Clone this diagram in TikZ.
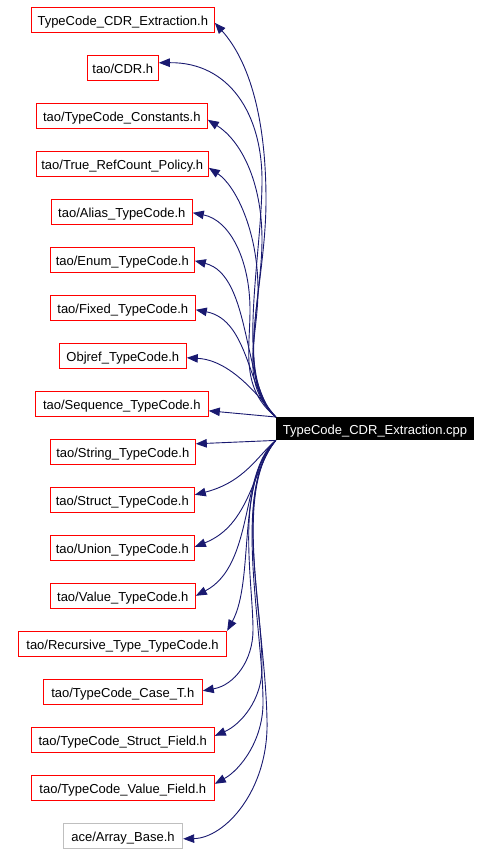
\documentclass[tikz,border=0pt]{standalone}
\usepackage{fontspec}
\setmainfont{Liberation Sans}
\usetikzlibrary{arrows.meta}
\definecolor{midnight}{RGB}{25,25,112}
\definecolor{greyline}{RGB}{191,191,191}
\tikzset{
  box/.style={draw=red, line width=1pt, minimum height=25pt, inner sep=0pt, text height=12.2pt, text depth=0pt, font=\fontsize{13pt}{15pt}\selectfont},
  greybox/.style={box, draw=greyline},
  mainbox/.style={fill=black, text=white, minimum height=23pt, inner sep=0pt, text height=11.2pt, text depth=0pt, font=\fontsize{13pt}{15pt}\selectfont},
  dep/.style={draw=midnight, line width=0.9pt, -{Triangle[length=11pt,width=8.5pt]}}
}
\begin{document}
\begin{tikzpicture}[x=1pt,y=-1pt]
\useasboundingbox (0,0) rectangle (491,854);
\node[box, minimum width=183pt] (n0) at (122.8,19.8) {TypeCode\_CDR\_Extraction.h};
\node[box, minimum width=71pt] (n1) at (122.8,67.8) {tao/CDR.h};
\node[box, minimum width=171pt] (n2) at (121.8,115.8) {tao/TypeCode\_Constants.h};
\node[box, minimum width=172pt] (n3) at (122.3,163.8) {tao/True\_RefCount\_Policy.h};
\node[box, minimum width=141pt] (n4) at (121.8,211.8) {tao/Alias\_TypeCode.h};
\node[box, minimum width=144pt] (n5) at (122.3,259.8) {tao/Enum\_TypeCode.h};
\node[box, minimum width=145pt] (n6) at (122.8,307.8) {tao/Fixed\_TypeCode.h};
\node[box, minimum width=127pt] (n7) at (122.8,355.8) {Objref\_TypeCode.h};
\node[box, minimum width=173pt] (n8) at (121.8,403.8) {tao/Sequence\_TypeCode.h};
\node[box, minimum width=145pt] (n9) at (122.8,451.8) {tao/String\_TypeCode.h};
\node[box, minimum width=144pt] (n10) at (122.3,499.8) {tao/Struct\_TypeCode.h};
\node[box, minimum width=144pt] (n11) at (122.3,547.8) {tao/Union\_TypeCode.h};
\node[box, minimum width=145pt] (n12) at (122.8,595.8) {tao/Value\_TypeCode.h};
\node[box, minimum width=208.4pt] (n13) at (122.5,643.8) {tao/Recursive\_Type\_TypeCode.h};
\node[box, minimum width=159pt] (n14) at (122.8,691.8) {tao/TypeCode\_Case\_T.h};
\node[box, minimum width=183pt] (n15) at (122.8,739.8) {tao/TypeCode\_Struct\_Field.h};
\node[box, minimum width=183pt] (n16) at (122.8,787.8) {tao/TypeCode\_Value\_Field.h};
\node[greybox, minimum width=119.4pt] (n17) at (123,835.8) {ace/Array\_Base.h};
\node[mainbox, minimum width=198pt] (main) at (375,428.7) {TypeCode\_CDR\_Extraction.cpp};

% upper edges
\draw[dep] (main.north west) .. controls (232,378) and (266,290) .. (266,200) .. controls (266,120) and (250,62) .. ([yshift=-3pt]n0.east);
\draw[dep] (main.north west) .. controls (234,378) and (262,260) .. (262,180) .. controls (262,115) and (230,62) .. ([yshift=5pt]n1.east);
\draw[dep] (main.north west) .. controls (236,380) and (262,300) .. (262,240) .. controls (262,180) and (240,140) .. ([yshift=-4pt]n2.east);
\draw[dep] (main.north west) .. controls (238,382) and (258,340) .. (258,290) .. controls (258,230) and (235,185) .. ([yshift=-4pt]n3.east);
\draw[dep] (main.north west) .. controls (240,388) and (250,350) .. (250,310) .. controls (250,260) and (230,220) .. ([yshift=-1pt]n4.east);
\draw[dep] (main.north west) .. controls (242,385) and (252,275) .. ([yshift=-1pt]n5.east);
\draw[dep] (main.north west) .. controls (248,395) and (250,320) .. ([yshift=-2pt]n6.east);
\draw[dep] (main.north west) .. controls (258,395) and (230,360) .. ([yshift=-2pt]n7.east);
\draw[dep] (main.north west) -- ([yshift=-7pt]n8.east);
\draw[dep] (main.south west) -- ([yshift=8pt]n9.east);
% lower edges
\draw[dep] (main.south west) .. controls (258,455) and (245,482) .. ([yshift=5pt]n10.east);
\draw[dep] (main.south west) .. controls (252,470) and (250,525) .. ([yshift=1pt]n11.east);
\draw[dep] (main.south west) .. controls (240,470) and (255,565) .. (n12.east);
\draw[dep] (main.south west) .. controls (236,480) and (255,580) .. (n13.north east);
\draw[dep] (main.south west) .. controls (234,485) and (253,580) .. (253,630) .. controls (253,660) and (235,685) .. ([yshift=1pt]n14.east);
\draw[dep] (main.south west) .. controls (234,488) and (262,600) .. (262,665) .. controls (263,700) and (240,725) .. ([yshift=4pt]n15.east);
\draw[dep] (main.south west) .. controls (232,490) and (262,620) .. (263,700) .. controls (264,740) and (240,770) .. ([yshift=4pt]n16.east);
\draw[dep] (main.south west) .. controls (232,492) and (265,620) .. (267,720) .. controls (269,790) and (225,838) .. ([yshift=-3pt]n17.east);
\end{tikzpicture}
\end{document}
